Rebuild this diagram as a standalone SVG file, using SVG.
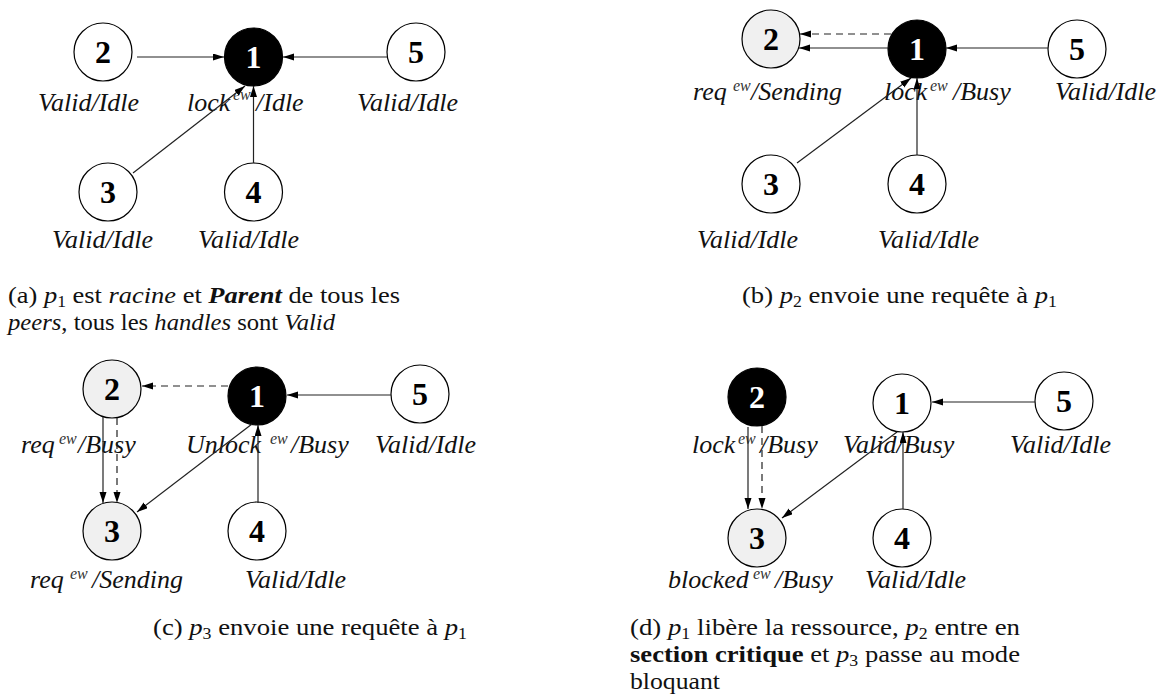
<svg xmlns="http://www.w3.org/2000/svg" width="1171" height="700" viewBox="0 0 1171 700">
<style>
.w{fill:#fff;stroke:#000;stroke-width:1.2}
.k{fill:#000;stroke:#000;stroke-width:1.2}
.g{fill:#f0f0f0;stroke:#000;stroke-width:1.2}
.num{font-family:"Liberation Serif",serif;font-weight:bold;font-size:32px;text-anchor:middle;fill:#000}
.wn{fill:#fff}
.lab{font-family:"Liberation Serif",serif;font-style:italic;font-size:26px;fill:#111}
.sup{font-size:16px;fill:#333}
.e{stroke:#222;stroke-width:1.2;fill:none;marker-end:url(#ah)}
.d{stroke-dasharray:7 5}
.cap{font-family:"Liberation Serif",serif;font-size:24px;fill:#111}
.i{font-style:italic}
.b{font-weight:bold}
.sub{font-size:16px}
</style>
<defs>
<marker id="ah" markerUnits="userSpaceOnUse" markerWidth="12" markerHeight="8" refX="11" refY="3.5" orient="auto"><path d="M0,0 L11,3.5 L0,7 z" fill="#000"/></marker>
</defs>

<!-- Panel (a) -->
<g id="a-n2"><circle class="w" cx="103" cy="52" r="29"/><text class="num" x="103" y="63">2</text><text class="lab" x="38" y="111">Valid/Idle</text></g>
<g id="a-n1"><circle class="k" cx="253.5" cy="57" r="29"/><text class="num wn" x="253.5" y="68">1</text><text class="lab" y="111"><tspan x="187">lock</tspan><tspan class="sup" x="233" y="100">ew</tspan><tspan x="256" y="111">/Idle</tspan></text></g>
<g id="a-n5"><circle class="w" cx="416" cy="52" r="29"/><text class="num" x="416" y="63">5</text><text class="lab" x="357" y="111">Valid/Idle</text></g>
<g id="a-n3"><circle class="w" cx="108" cy="192" r="29"/><text class="num" x="108" y="203">3</text><text class="lab" x="52" y="248">Valid/Idle</text></g>
<g id="a-n4"><circle class="w" cx="253.5" cy="192" r="29"/><text class="num" x="253.5" y="203">4</text><text class="lab" x="198" y="248">Valid/Idle</text></g>

<!-- Panel (b) -->
<g id="b-n2"><circle class="g" cx="771" cy="39" r="29"/><text class="num" x="771" y="50">2</text><text class="lab" y="100"><tspan x="693">req</tspan><tspan class="sup" x="733" y="91">ew</tspan><tspan x="751" y="100">/Sending</tspan></text></g>
<g id="b-n1"><circle class="k" cx="917" cy="49" r="29"/><text class="num wn" x="917" y="60">1</text><text class="lab" y="100"><tspan x="884">lock</tspan><tspan class="sup" x="930" y="91">ew</tspan><tspan x="953" y="100">/Busy</tspan></text></g>
<g id="b-n5"><circle class="w" cx="1077" cy="49" r="29"/><text class="num" x="1077" y="60">5</text><text class="lab" x="1055" y="100">Valid/Idle</text></g>
<g id="b-n3"><circle class="w" cx="771" cy="184" r="29"/><text class="num" x="771" y="195">3</text><text class="lab" x="697" y="248">Valid/Idle</text></g>
<g id="b-n4"><circle class="w" cx="917" cy="184" r="29"/><text class="num" x="917" y="195">4</text><text class="lab" x="878" y="248">Valid/Idle</text></g>

<!-- Panel (c) -->
<g id="c-n2"><circle class="g" cx="112" cy="389" r="29"/><text class="num" x="112" y="400">2</text><text class="lab" y="453"><tspan x="21">req</tspan><tspan class="sup" x="59" y="444">ew</tspan><tspan x="78" y="453">/Busy</tspan></text></g>
<g id="c-n1"><circle class="k" cx="257" cy="396" r="29"/><text class="num wn" x="257" y="407">1</text><text class="lab" y="453"><tspan x="186">Unlock</tspan><tspan class="sup" x="270" y="444">ew</tspan><tspan x="291" y="453">/Busy</tspan></text></g>
<g id="c-n5"><circle class="w" cx="420" cy="394" r="29"/><text class="num" x="420" y="405">5</text><text class="lab" x="375" y="453">Valid/Idle</text></g>
<g id="c-n3"><circle class="g" cx="112" cy="531" r="29"/><text class="num" x="112" y="542">3</text><text class="lab" y="588"><tspan x="30">req</tspan><tspan class="sup" x="70" y="579">ew</tspan><tspan x="92" y="588">/Sending</tspan></text></g>
<g id="c-n4"><circle class="w" cx="257" cy="531" r="29"/><text class="num" x="257" y="542">4</text><text class="lab" x="245" y="588">Valid/Idle</text></g>

<!-- Panel (d) -->
<g id="d-n2"><circle class="k" cx="757" cy="397" r="29"/><text class="num wn" x="757" y="408">2</text><text class="lab" y="453"><tspan x="692">lock</tspan><tspan class="sup" x="738" y="444">ew</tspan><tspan x="760" y="453">/Busy</tspan></text></g>
<g id="d-n1"><circle class="w" cx="902" cy="403" r="29"/><text class="num" x="902" y="414">1</text><text class="lab" x="843" y="453">Valid/Busy</text></g>
<g id="d-n5"><circle class="w" cx="1064" cy="401" r="29"/><text class="num" x="1064" y="412">5</text><text class="lab" x="1010" y="453">Valid/Idle</text></g>
<g id="d-n3"><circle class="g" cx="757" cy="538" r="29"/><text class="num" x="757" y="549">3</text><text class="lab" y="588"><tspan x="668">blocked</tspan><tspan class="sup" x="753" y="579">ew</tspan><tspan x="775" y="588">/Busy</tspan></text></g>
<g id="d-n4"><circle class="w" cx="902" cy="538" r="29"/><text class="num" x="902" y="549">4</text><text class="lab" x="865" y="588">Valid/Idle</text></g>

<g id="connectors">
<!-- a -->
<line class="e" x1="137" y1="57" x2="224" y2="57"/>
<line class="e" x1="387" y1="57" x2="283" y2="57"/>
<line class="e" x1="133" y1="173" x2="245" y2="86"/>
<line class="e" x1="253.5" y1="163" x2="253.5" y2="86"/>
<!-- b -->
<line class="e" x1="888" y1="48" x2="799" y2="48"/>
<line class="e d" x1="891" y1="34" x2="800" y2="34"/>
<line class="e" x1="1048" y1="48" x2="946" y2="48"/>
<line class="e" x1="797" y1="163" x2="911" y2="78"/>
<line class="e" x1="917" y1="155" x2="917" y2="78"/>
<!-- c -->
<line class="e d" x1="228" y1="386" x2="142" y2="386"/>
<line class="e" x1="391" y1="395" x2="287" y2="395"/>
<line class="e" x1="103" y1="417" x2="103" y2="503"/>
<line class="e d" x1="117" y1="418" x2="117" y2="503"/>
<line class="e" x1="252" y1="424" x2="137" y2="512"/>
<line class="e" x1="258" y1="503" x2="258" y2="425"/>
<!-- d -->
<line class="e" x1="1035" y1="402" x2="932" y2="402"/>
<line class="e" x1="748" y1="427" x2="748" y2="509"/>
<line class="e d" x1="762" y1="426" x2="762" y2="509"/>
<line class="e" x1="897" y1="432" x2="782" y2="518"/>
<line class="e" x1="903" y1="509" x2="903" y2="432"/>
</g>

<g id="captions">
<text class="cap" x="8" y="303" textLength="392" lengthAdjust="spacingAndGlyphs">(a) <tspan class="i">p</tspan><tspan class="sub" dy="4">1</tspan><tspan dy="-4"> est </tspan><tspan class="i">racine</tspan> et <tspan class="i b">Parent</tspan> de tous les</text>
<text class="cap" x="8" y="330" textLength="327" lengthAdjust="spacingAndGlyphs"><tspan class="i">peers</tspan>, tous les <tspan class="i">handles</tspan> sont <tspan class="i">Valid</tspan></text>
<text class="cap" x="742" y="303" textLength="315" lengthAdjust="spacingAndGlyphs">(b) <tspan class="i">p</tspan><tspan class="sub" dy="4">2</tspan><tspan dy="-4"> envoie une requête à </tspan><tspan class="i">p</tspan><tspan class="sub" dy="4">1</tspan></text>
<text class="cap" x="153" y="635" textLength="314" lengthAdjust="spacingAndGlyphs">(c) <tspan class="i">p</tspan><tspan class="sub" dy="4">3</tspan><tspan dy="-4"> envoie une requête à </tspan><tspan class="i">p</tspan><tspan class="sub" dy="4">1</tspan></text>
<text class="cap" x="630" y="635" textLength="390" lengthAdjust="spacingAndGlyphs">(d) <tspan class="i">p</tspan><tspan class="sub" dy="4">1</tspan><tspan dy="-4"> libère la ressource, </tspan><tspan class="i">p</tspan><tspan class="sub" dy="4">2</tspan><tspan dy="-4"> entre en</tspan></text>
<text class="cap" x="630" y="662" textLength="390" lengthAdjust="spacingAndGlyphs"><tspan class="b">section critique</tspan> et <tspan class="i">p</tspan><tspan class="sub" dy="4">3</tspan><tspan dy="-4"> passe au mode</tspan></text>
<text class="cap" x="630" y="689" textLength="90" lengthAdjust="spacingAndGlyphs">bloquant</text>
</g>
</svg>
